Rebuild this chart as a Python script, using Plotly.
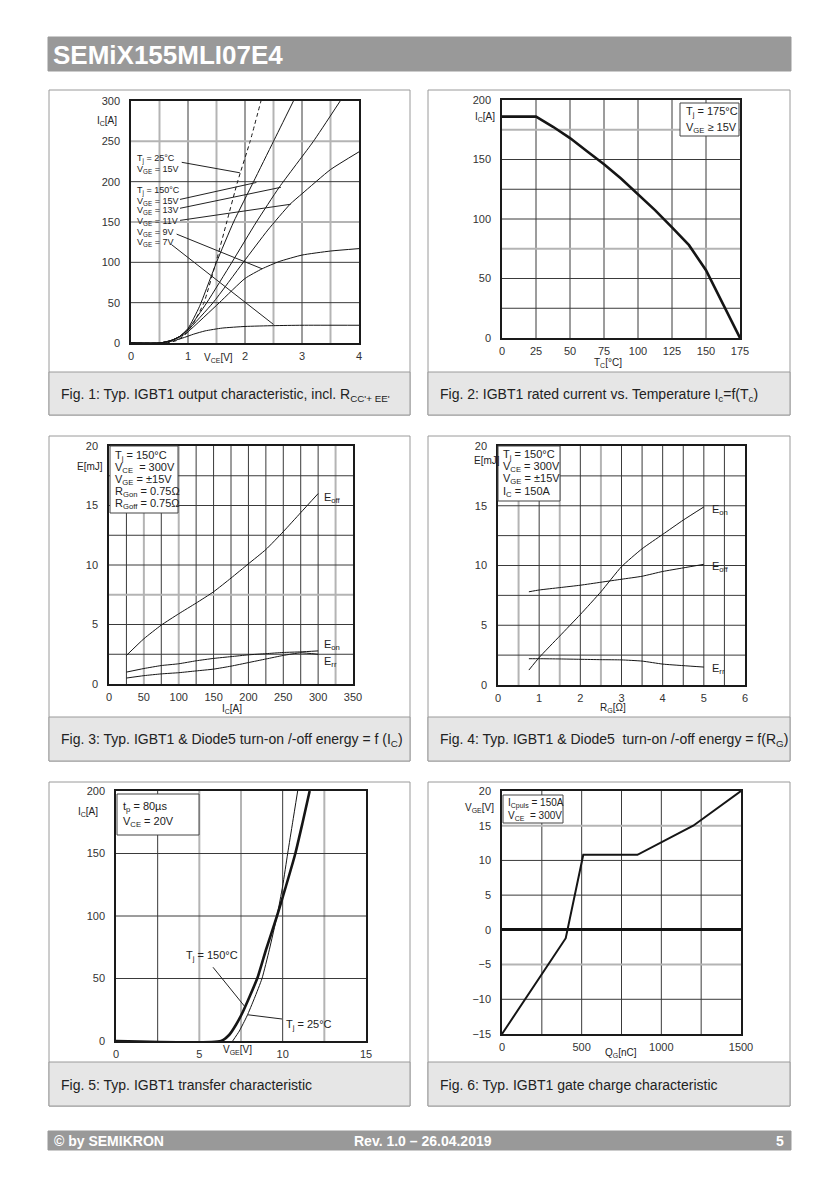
import plotly.graph_objects as go

W, H = 838, 1188
FONT = "Liberation Sans, Arial, Helvetica, sans-serif"
NARROW = "Liberation Sans Narrow, Arial Narrow, Liberation Sans, Arial, sans-serif"
DARK = "#3a3a3a"
LIGHT = "#b4b4b4"

# ---------------- data ----------------
# Fig 1: output characteristic (Tj=150C, various VGE; dashed Tj=25C VGE=15V)
f1_vce_25_15 = [0, 0.6, 0.8, 0.95, 1.1, 1.28, 1.49, 1.68, 1.87, 2.09, 2.28]
f1_ic_25_15 = [0, 0, 3, 10, 25, 50, 100, 150, 200, 250, 300]
f1_vce_15 = [0, 0.5, 0.7, 0.85, 1.0, 1.2, 1.5, 1.8, 2.15, 2.5, 2.85]
f1_ic_15 = [0, 0, 3, 8, 18, 45, 100, 150, 200, 250, 300]
f1_vce_13 = [0, 0.5, 0.7, 0.85, 1.0, 1.33, 1.77, 2.2, 2.6, 3.2, 3.67]
f1_ic_13 = [0, 0, 3, 8, 17, 50, 100, 150, 193, 250, 300]
f1_vce_11 = [0, 0.5, 0.7, 0.85, 1.0, 1.44, 1.97, 2.4, 2.79, 3.0, 3.5, 4.0]
f1_ic_11 = [0, 0, 3, 8, 16, 50, 100, 140, 172, 185, 215, 237]
f1_vce_9 = [0, 0.5, 0.7, 0.85, 1.0, 1.55, 2.0, 2.3, 2.6, 3.0, 3.5, 4.0]
f1_ic_9 = [0, 0, 3, 7, 14, 50, 80, 92, 101, 109, 114, 117]
f1_vce_7 = [0, 0.5, 0.7, 0.9, 1.1, 1.3, 1.6, 2.0, 2.5, 3.0, 4.0]
f1_ic_7 = [0, 0, 2, 6, 11, 15, 18.5, 20.5, 21.5, 22, 22]
f1_labels = ["T<sub>j</sub> = 25°C", "V<sub>GE</sub> = 15V", "T<sub>j</sub> = 150°C",
             "V<sub>GE</sub> = 15V", "V<sub>GE</sub> = 13V", "V<sub>GE</sub> = 11V",
             "V<sub>GE</sub> = 9V", "V<sub>GE</sub> = 7V"]
f1_leaders = [((0.89, 224), (1.91, 211)), ((0.86, 178), (2.2, 199)),
              ((0.86, 167), (2.63, 193)), ((0.86, 152), (2.8, 172)),
              ((0.80, 135), (2.30, 92)), ((0.71, 122), (2.50, 23))]

# Fig 2: rated current vs case temperature
f2_tc = [0, 25, 37.5, 50, 62.5, 75, 87.5, 100, 112.5, 125, 137.5, 150, 162.5, 175]
f2_ic = [186, 186, 177.5, 168, 157, 146, 134, 121, 107.5, 93, 78, 57, 29, 0]

# Fig 3: switching energy vs IC
f3_ic = [25, 50, 75, 100, 125, 150, 175, 200, 225, 250, 275, 300]
f3_eoff = [2.4, 3.8, 4.95, 5.9, 6.8, 7.75, 8.9, 10.1, 11.3, 12.8, 14.4, 16.0]
f3_eon = [1.0, 1.3, 1.55, 1.7, 1.95, 2.15, 2.3, 2.45, 2.55, 2.65, 2.7, 2.78]
f3_err = [0.5, 0.7, 0.85, 0.95, 1.1, 1.25, 1.5, 1.8, 2.1, 2.4, 2.62, 2.5]

# Fig 4: switching energy vs RG
f4_rg = [0.75, 1, 1.5, 2, 2.5, 3, 3.5, 4, 4.5, 5]
f4_eon = [1.25, 2.3, 4.1, 5.9, 7.8, 9.9, 11.4, 12.6, 13.8, 14.9]
f4_eoff = [7.8, 7.95, 8.15, 8.35, 8.6, 8.85, 9.1, 9.5, 9.8, 10.1]
f4_err = [2.2, 2.2, 2.18, 2.15, 2.12, 2.1, 2.0, 1.75, 1.62, 1.5]

# Fig 5: transfer characteristic
f5_vge_150 = [0, 6.3, 6.8, 7.2, 7.6, 8.0, 8.5, 9.0, 9.66, 10.2, 10.76, 11.2, 11.62]
f5_ic_150 = [0, 0, 5, 13, 23, 35, 51, 73, 100, 124, 150, 175, 200]
f5_vge_25 = [7.0, 7.4, 7.86, 8.3, 8.76, 9.2, 9.66, 10.0, 10.3, 10.6, 10.9]
f5_ic_25 = [0, 8, 20, 34, 50, 73, 100, 124, 150, 175, 200]
f5_leaders = [((5.82, 59), (7.7, 28)), ((9.96, 17.6), (7.9, 21))]

# Fig 6: gate charge
f6_qg = [0, 400, 510, 850, 1200, 1500]
f6_vge = [-15, -1.2, 10.8, 10.8, 15, 20]

# ---------------- helpers ----------------
def px(x):
    return x / W

def py(y):
    return 1 - y / H

fig = go.Figure()
shapes = []
annos = []

def text(x, y, s, size=11, anchor="left", color="#222", family=FONT, yanchor="middle"):
    annos.append(dict(x=px(x), y=py(y), xref="paper", yref="paper", text=s, showarrow=False,
                      xanchor=anchor, yanchor=yanchor, font=dict(size=size, color=color, family=family)))

def rect(x0, y0, x1, y1, fill, line="#9a9a9a", width=1, layer="below"):
    shapes.append(dict(type="rect", xref="paper", yref="paper", x0=px(x0), x1=px(x1),
                       y0=py(y1), y1=py(y0), fillcolor=fill, line=dict(color=line, width=width),
                       layer=layer))

# page decoration
rect(48, 37, 791, 71, "#999999", line="#999999")
text(51, 55, "<b>SEMiX155MLI07E4</b>", size=26, color="white", family=NARROW)
rect(48, 1131, 791, 1150, "#999999", line="#999999")
text(52, 1140.5, "<b>© by SEMIKRON</b>", size=14, color="white", family=NARROW)
text(423, 1140.5, "<b>Rev. 1.0 – 26.04.2019</b>", size=14, color="white", family=NARROW, anchor="center")
text(786, 1140.5, "<b>5</b>", size=14, color="white", family=NARROW, anchor="right")

panel_boxes = [(49, 90, 410, 415, 372), (428, 90, 790, 415, 372),
               (49, 436, 410, 761, 717), (428, 436, 790, 761, 717),
               (49, 782, 410, 1106, 1062), (428, 782, 790, 1106, 1062)]
captions = ["Fig. 1: Typ. IGBT1 output characteristic, incl. R<sub>CC'+ EE'</sub>",
            "Fig. 2: IGBT1 rated current vs. Temperature I<sub>c</sub>=f(T<sub>c</sub>)",
            "Fig. 3: Typ. IGBT1 & Diode5 turn-on /-off energy = f (I<sub>C</sub>)",
            "Fig. 4: Typ. IGBT1 & Diode5  turn-on /-off energy = f(R<sub>G</sub>)",
            "Fig. 5: Typ. IGBT1 transfer characteristic",
            "Fig. 6: Typ. IGBT1 gate charge characteristic"]
for (x0, y0, x1, y1, yc), cap in zip(panel_boxes, captions):
    rect(x0, y0, x1, y1, "white")
    rect(x0, yc, x1, y1, "#e6e6e6")
    text(x0 + 10, (yc + y1) / 2 + 1, cap, size=14)

# plot areas (pixel) and axes definitions
panels = [
    dict(box=(131, 359, 101, 343), xr=[0, 4], yr=[0, 300], xt=[0, 1, 2, 3, 4],
         yt=[0, 50, 100, 150, 200, 250, 300],
         gx=[(0.5, "l"), (1, "d"), (1.5, "l"), (2, "d"), (2.5, "l"), (3, "d"), (3.5, "l")],
         gy=[(50, "d"), (100, "d"), (150, "l"), (200, "d"), (250, "l")]),
    dict(box=(502, 740, 100, 338), xr=[0, 175], yr=[0, 200], xt=[0, 25, 50, 75, 100, 125, 150, 175],
         yt=[0, 50, 100, 150, 200],
         gx=[(v, "d") for v in [25, 50, 75, 100, 125, 150]],
         gy=[(25, "d"), (50, "d"), (75, "l"), (100, "d"), (125, "d"), (150, "d"), (175, "l")]),
    dict(box=(109, 353, 446, 684), xr=[0, 350], yr=[0, 20], xt=[0, 50, 100, 150, 200, 250, 300, 350],
         yt=[0, 5, 10, 15, 20],
         gx=[(25, "d"), (50, "l"), (75, "d"), (100, "l"), (125, "d"), (150, "d"), (175, "d"),
             (200, "d"), (225, "d"), (250, "d"), (275, "d"), (300, "d"), (325, "l")],
         gy=[(2.5, "d"), (5, "d"), (7.5, "l"), (10, "d"), (12.5, "d"), (15, "d"), (17.5, "d")]),
    dict(box=(498, 745, 446, 685), xr=[0, 6], yr=[0, 20], xt=[0, 1, 2, 3, 4, 5, 6],
         yt=[0, 5, 10, 15, 20],
         gx=[(0.5, "l"), (1, "d"), (1.5, "l"), (2, "d"), (2.5, "l"), (3, "d"), (3.5, "d"),
             (4, "d"), (4.5, "d"), (5, "d"), (5.5, "d")],
         gy=[(v, "d") for v in [2.5, 5, 7.5, 10, 12.5, 15, 17.5]]),
    dict(box=(116, 366, 791, 1041), xr=[0, 15], yr=[0, 200], xt=[0, 5, 10, 15],
         yt=[0, 50, 100, 150, 200],
         gx=[(2.5, "d"), (5, "l"), (7.5, "l"), (10, "d"), (12.5, "l")],
         gy=[(50, "d"), (100, "d"), (150, "d")]),
    dict(box=(502, 741, 791, 1034), xr=[0, 1500], yr=[-15, 20], xt=[0, 500, 1000, 1500],
         yt=[-15, -10, -5, 0, 5, 10, 15, 20],
         gx=[(v, "d") for v in [250, 500, 750, 1000, 1250]],
         gy=[(-10, "d"), (-5, "l"), (5, "d"), (10, "d"), (15, "l")]),
]

for i, p in enumerate(panels, start=1):
    sfx = "" if i == 1 else str(i)
    x0, x1, y0, y1 = p["box"]
    fig.layout["xaxis" + sfx] = dict(
        domain=[px(x0), px(x1)], range=p["xr"], anchor="y" + sfx, tickvals=p["xt"],
        showgrid=False, zeroline=False, showline=True, mirror=True, linecolor="#1a1a1a",
        linewidth=1.5, ticks="", ticklabelstandoff=2, fixedrange=True, automargin=False,
        tickfont=dict(size=11, color="#333", family=FONT))
    fig.layout["yaxis" + sfx] = dict(
        domain=[py(y1), py(y0)], range=p["yr"], anchor="x" + sfx, tickvals=p["yt"],
        showgrid=False, zeroline=(i == 6), zerolinecolor="#111", zerolinewidth=2.5,
        showline=True, mirror=True, linecolor="#1a1a1a", automargin=False,
        linewidth=1.5, ticks="", ticklabelstandoff=7, fixedrange=True,
        tickfont=dict(size=11, color="#333", family=FONT))
    xr, yr = "x" + sfx, "y" + sfx
    for v, s in p["gx"]:
        shapes.append(dict(type="line", xref=xr, yref=yr + " domain", x0=v, x1=v, y0=0, y1=1,
                           layer="below", line=dict(color=DARK if s == "d" else LIGHT,
                                                    width=1 if s == "d" else 2)))
    for v, s in p["gy"]:
        shapes.append(dict(type="line", xref=xr + " domain", yref=yr, x0=0, x1=1, y0=v, y1=v,
                           layer="below", line=dict(color=DARK if s == "d" else LIGHT,
                                                    width=1 if s == "d" else 2)))

def line_trace(x, y, ax, width=1.0, dash="solid", color="#151515", smooth=True):
    ln = dict(color=color, width=width, dash=dash)
    if smooth:
        ln.update(shape="spline", smoothing=0.5)
    fig.add_trace(go.Scatter(x=x, y=y, mode="lines", xaxis="x" + ax, yaxis="y" + ax,
                             line=ln, showlegend=False, hoverinfo="skip"))

def leader(a, b, ax):
    shapes.append(dict(type="line", xref="x" + ax, yref="y" + ax, x0=a[0], y0=a[1],
                       x1=b[0], y1=b[1], line=dict(color="#222", width=1), layer="above"))

# Fig 1
line_trace(f1_vce_25_15, f1_ic_25_15, "", dash="4px,3px")
line_trace(f1_vce_15, f1_ic_15, "")
line_trace(f1_vce_13, f1_ic_13, "")
line_trace(f1_vce_11, f1_ic_11, "")
line_trace(f1_vce_9, f1_ic_9, "")
line_trace(f1_vce_7, f1_ic_7, "")
for a, b in f1_leaders:
    leader(a, b, "")
for s, yy in zip(f1_labels, [159, 169, 191, 201, 211, 222, 232, 242]):
    text(135, yy, s, size=9, color="#222")
text(107, 121, "I<sub>C</sub>[A]", size=10, anchor="center")
text(218, 358, "V<sub>CE</sub>[V]", size=10, anchor="center")

# Fig 2
line_trace(f2_tc, f2_ic, "2", width=2.6, smooth=False)
rect(680, 103, 739, 136, "white", line="#444", layer="above")
text(684, 112, "T<sub>j</sub> = 175°C", size=11)
text(684, 128, "V<sub>GE</sub> ≥ 15V", size=11)
text(485, 117, "I<sub>C</sub>[A]", size=10, anchor="center")
text(608, 363, "T<sub>C</sub>[°C]", size=10, anchor="center")

# Fig 3
line_trace(f3_ic, f3_eoff, "3")
line_trace(f3_ic, f3_eon, "3")
line_trace(f3_ic, f3_err, "3")
rect(110, 446, 178, 513, "white", line="#444", layer="above")
for s, yy in zip(["T<sub>j</sub> = 150°C", "V<sub>CE</sub>  = 300V", "V<sub>GE</sub> = ±15V",
                  "R<sub>Gon</sub> = 0.75Ω", "R<sub>Goff</sub> = 0.75Ω"],
                 [456, 468, 480, 492, 504]):
    text(113, yy, s, size=11)
text(322, 498, "E<sub>off</sub>", size=11)
text(322, 645, "E<sub>on</sub>", size=11)
text(322, 662, "E<sub>rr</sub>", size=11)
text(90, 466, "E[mJ]", size=10, anchor="center")
text(232, 709, "I<sub>C</sub>[A]", size=10, anchor="center")

# Fig 4
line_trace(f4_rg, f4_eon, "4")
line_trace(f4_rg, f4_eoff, "4")
line_trace(f4_rg, f4_err, "4")
rect(498, 446, 560, 501, "white", line="#444", layer="above")
for s, yy in zip(["T<sub>j</sub> = 150°C", "V<sub>CE</sub> = 300V", "V<sub>GE</sub> = ±15V",
                  "I<sub>C</sub> = 150A"], [455, 467, 479, 492]):
    text(501, yy, s, size=11)
text(710, 510, "E<sub>on</sub>", size=11)
text(710, 567, "E<sub>off</sub>", size=11)
text(710, 669, "E<sub>rr</sub>", size=11)
text(487, 461, "E[mJ]", size=10, anchor="center")
text(613, 708, "R<sub>G</sub>[Ω]", size=10, anchor="center")

# Fig 5
line_trace(f5_vge_25, f5_ic_25, "5", width=1)
line_trace(f5_vge_150, f5_ic_150, "5", width=2.6)
for a, b in f5_leaders:
    leader(a, b, "5")
rect(117, 794, 199, 835, "white", line="#444", layer="above")
text(121, 807, "t<sub>p</sub> = 80µs", size=11)
text(121, 822, "V<sub>CE</sub> = 20V", size=11)
text(212, 956, "T<sub>j</sub> = 150°C", size=11, anchor="center")
text(284, 1025, "T<sub>j</sub> = 25°C", size=11)
text(88, 812, "I<sub>C</sub>[A]", size=10, anchor="center")
text(237, 1050, "V<sub>GE</sub>[V]", size=10, anchor="center")

# Fig 6
line_trace(f6_qg, f6_vge, "6", width=2, smooth=False)
rect(503, 795, 563, 823, "white", line="#444", layer="above")
text(506, 803, "I<sub>Cpuls</sub> = 150A", size=10)
text(506, 816, "V<sub>CE</sub>  = 300V", size=10)
text(479, 808, "V<sub>GE</sub>[V]", size=10, anchor="center")
text(621, 1053, "Q<sub>G</sub>[nC]", size=10, anchor="center")

fig.update_layout(width=W, height=H, autosize=False,
                  margin=dict(l=0, r=0, t=0, b=0, pad=0, autoexpand=False),
                  paper_bgcolor="white", plot_bgcolor="rgba(0,0,0,0)",
                  shapes=shapes, annotations=annos, showlegend=False,
                  font=dict(family=FONT, color="#222"))
fig.write_html("out.html", config={"displayModeBar": False, "responsive": False},
               post_script="document.body.style.margin='0px';document.body.style.padding='0px';")
